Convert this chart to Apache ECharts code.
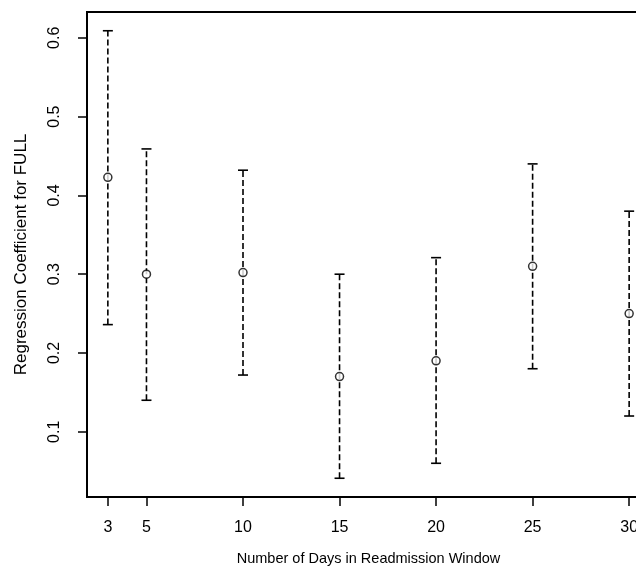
<!DOCTYPE html>
<html>
<head>
<meta charset="utf-8">
<script src="https://cdn.jsdelivr.net/npm/echarts@6/dist/echarts.min.js"></script>
<style>
  html, body { margin: 0; padding: 0; background: #fff; }
  #chart { width: 636px; height: 566px; }
</style>
</head>
<body>
<div id="chart"></div>
<script>
// readmission window lengths (days)
var days = [3, 5, 10, 15, 20, 25, 30]
// coefficient estimates and interval ends
var estimate = [0.423, 0.300, 0.302, 0.170, 0.190, 0.310, 0.250]
var lower = [0.236, 0.140, 0.172, 0.041, 0.060, 0.180, 0.120]
var upper = [0.609, 0.459, 0.432, 0.300, 0.321, 0.440, 0.380]
var xTicks = [3, 5, 10, 15, 20, 25, 30]
var yTicks = [0.1, 0.2, 0.3, 0.4, 0.5, 0.6]

var font = 'Liberation Sans, Arial, Helvetica, sans-serif'
var myChart = echarts.init(document.getElementById('chart'))

var barData = days.map(function (d, i) { return [d, lower[i], upper[i]] })
var pointData = days.map(function (d, i) { return [d, estimate[i]] })

myChart.setOption({
    animation: false,
    backgroundColor: '#fff',
    grid: {
        left: 87,
        right: -14,
        top: 12,
        bottom: 69,
        outerBoundsMode: 'none',
        containLabel: false,
        show: true,
        borderColor: '#000',
        borderWidth: 2,
        backgroundColor: 'transparent'
    },
    xAxis: {
        type: 'value',
        min: 1.92,
        max: 31.08,
        name: 'Number of Days in Readmission Window',
        nameLocation: 'middle',
        nameGap: 54,
        nameTextStyle: { color: '#000', fontSize: 14.5, fontFamily: font },
        axisLine: { show: false },
        splitLine: { show: false },
        axisTick: {
            show: true,
            length: 9,
            customValues: xTicks,
            lineStyle: { color: '#000', width: 1.5 }
        },
        axisLabel: {
            customValues: xTicks,
            margin: 23,
            color: '#000',
            fontSize: 16,
            fontFamily: font
        }
    },
    yAxis: {
        type: 'value',
        min: 0.0172,
        max: 0.6328,
        name: 'Regression Coefficient for FULL',
        nameLocation: 'middle',
        nameGap: 57,
        nameRotate: 90,
        nameTextStyle: { color: '#000', fontSize: 17, fontFamily: font },
        axisLine: { show: false },
        splitLine: { show: false },
        axisTick: {
            show: true,
            length: 9,
            customValues: yTicks,
            lineStyle: { color: '#000', width: 1.5 }
        },
        axisLabel: {
            customValues: yTicks,
            rotate: 90,
            margin: 24,
            color: '#000',
            fontSize: 16,
            fontFamily: font,
            formatter: function (v) { return v.toFixed(1) }
        }
    },
    series: [
        {
            type: 'custom',
            data: barData,
            renderItem: function (params, api) {
                var x = api.value(0)
                var lo = api.coord([x, api.value(1)])
                var hi = api.coord([x, api.value(2)])
                var w = 5
                var capStyle = { stroke: '#000', lineWidth: 1.6 }
                return {
                    type: 'group',
                    children: [
                        {
                            type: 'line',
                            shape: { x1: lo[0], y1: lo[1], x2: hi[0], y2: hi[1] },
                            style: { stroke: '#000', lineWidth: 1.6, lineDash: [6, 3] }
                        },
                        {
                            type: 'line',
                            shape: { x1: lo[0] - w, y1: lo[1], x2: lo[0] + w, y2: lo[1] },
                            style: capStyle
                        },
                        {
                            type: 'line',
                            shape: { x1: hi[0] - w, y1: hi[1], x2: hi[0] + w, y2: hi[1] },
                            style: capStyle
                        }
                    ]
                }
            },
            z: 2
        },
        {
            type: 'scatter',
            data: pointData,
            symbol: 'circle',
            symbolSize: 8,
            itemStyle: { color: '#fff', borderColor: '#000', borderWidth: 1.5 },
            z: 3
        }
    ]
})
</script>
</body>
</html>
